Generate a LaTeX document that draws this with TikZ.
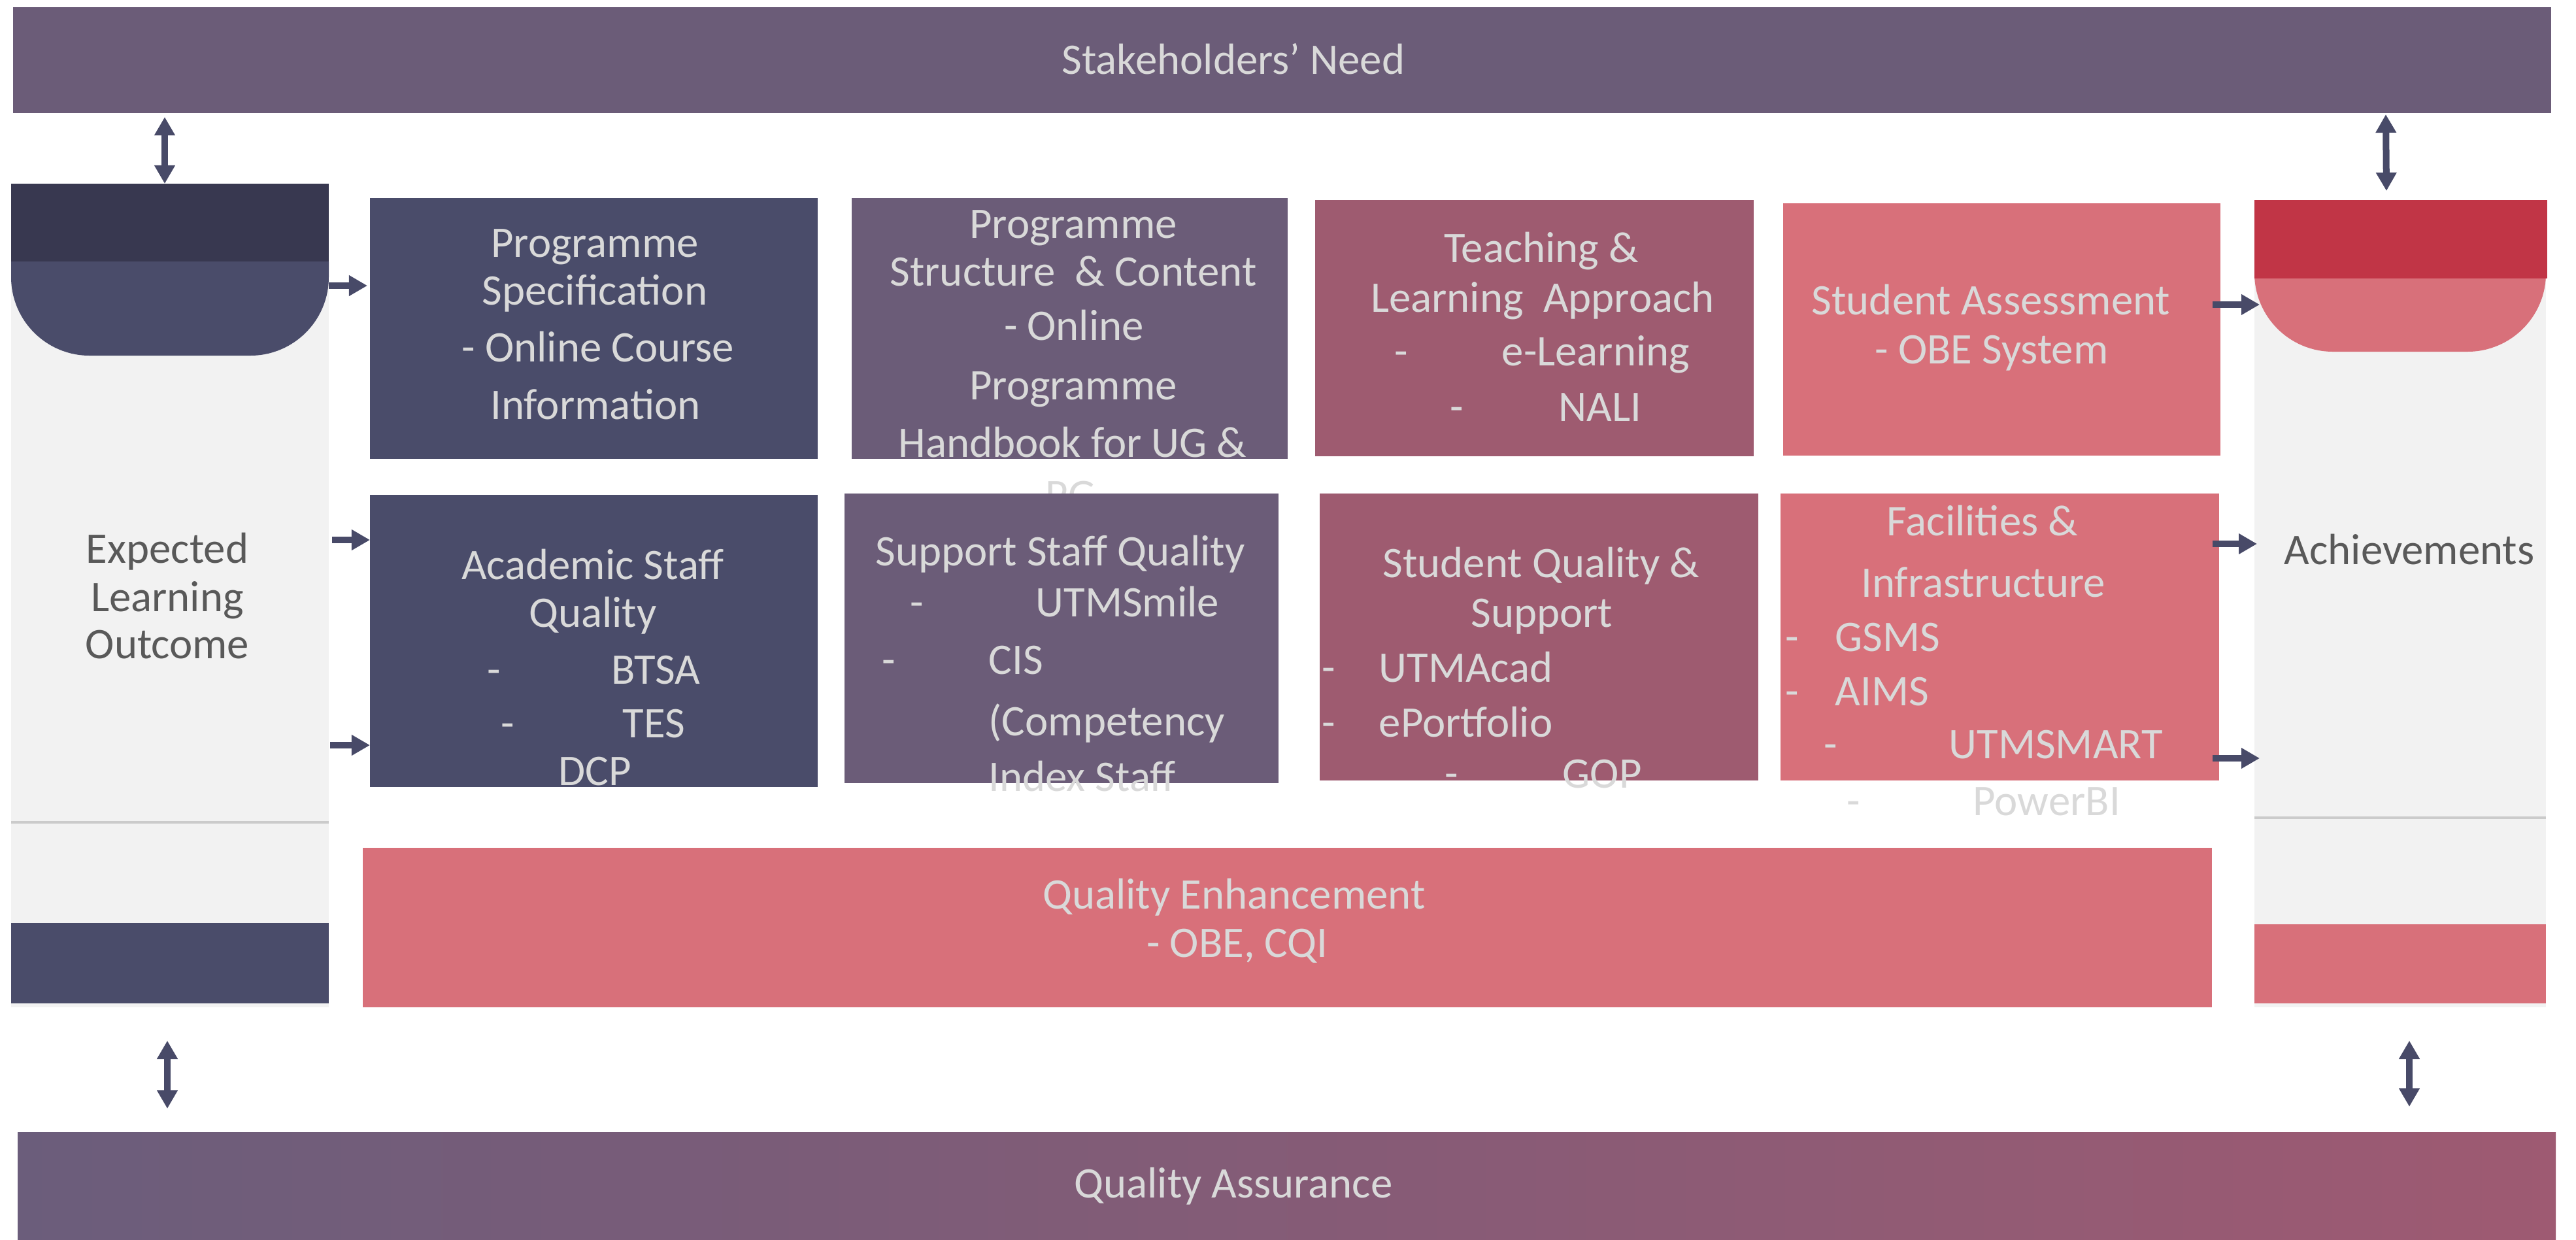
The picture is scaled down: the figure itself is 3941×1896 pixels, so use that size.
\documentclass[tikz,border=0pt]{standalone}
\usepackage{fontspec}
\setmainfont{Carlito}
\usetikzlibrary{arrows.meta,fit}
\definecolor{barpurple}{HTML}{6B5C78}
\definecolor{navy}{HTML}{4A4C6A}
\definecolor{darkcap}{HTML}{383850}
\definecolor{mauve}{HTML}{9E5B70}
\definecolor{pinkc}{HTML}{D8707A}
\definecolor{redcap}{HTML}{C13546}
\definecolor{panel}{HTML}{F2F2F2}
\definecolor{divider}{HTML}{CBCBCB}
\definecolor{arrowc}{HTML}{484A68}
\definecolor{lighttext}{HTML}{D9D9D9}
\definecolor{graytext}{HTML}{595959}
\definecolor{qaleft}{HTML}{6B5D7B}
\definecolor{qaright}{HTML}{9E5A72}
\tikzset{
  blk/.style={inner sep=0pt, outer sep=0pt, fill=#1},
  txt/.style={text=lighttext, font=\fontsize{19}{23}\selectfont, inner sep=0pt},
  gtxt/.style={text=graytext, font=\fontsize{19}{23}\selectfont, inner sep=0pt},
  arr/.style={line width=0.1cm, draw=arrowc, -{Triangle[width=0.3cm,length=0.28cm]}},
  darr/.style={line width=0.1cm, draw=arrowc, {Triangle[width=0.3cm,length=0.28cm]}-{Triangle[width=0.3cm,length=0.28cm]}}
}
\begin{document}
\begin{tikzpicture}[x=0.01cm,y=-0.01cm]
\useasboundingbox (0,0) rectangle (3941,1896);
\fill[white] (0,0) rectangle (3941,1896);

% top and bottom bars
\node[blk=barpurple, fit={(20,11) (3903,173)}] (topbar) {};
\node[inner sep=0pt, outer sep=0pt, left color=qaleft, right color=qaright, fit={(27,1732) (3910,1896)}] (botbar) {};
\node[txt, anchor=base] (tStake) at (1887,113) {Stakeholders’ Need};
\node[txt, anchor=base] (tQA) at (1887,1832) {Quality Assurance};

% left column
\node[blk=panel, fit={(17,281) (503,1541)}] (lpanel) {};
\node[blk=navy, rounded corners=1.2cm, fit={(17,281) (503,544)}] (lround) {};
\node[blk=darkcap, fit={(17,281) (503,400)}] (lcap) {};
\coordinate (ld1) at (17,1258);
\coordinate (ld2) at (503,1258);
\draw[divider, line width=0.04cm] (ld1) -- (ld2);
\node[blk=navy, fit={(17,1412) (503,1535)}] (lbot) {};
\node[gtxt, anchor=base] (tELO1) at (256,861) {Expected};
\node[gtxt, anchor=base] (tELO2) at (256,935) {Learning};
\node[gtxt, anchor=base] (tELO3) at (256,1007) {Outcome};

% right column
\node[blk=panel, fit={(3449,306) (3895,1541)}] (rpanel) {};
\node[blk=pinkc, rounded corners=1.2cm, fit={(3449,306) (3895,538)}] (rround) {};
\node[blk=redcap, fit={(3449,306) (3897,426)}] (rcap) {};
\coordinate (rd1) at (3449,1251);
\coordinate (rd2) at (3895,1251);
\draw[divider, line width=0.04cm] (rd1) -- (rd2);
\node[blk=pinkc, fit={(3449,1414) (3895,1535)}] (rbot) {};
\node[gtxt, anchor=base] (tAch) at (3686,863) {Achievements};

% row 1
\node[blk=navy, fit={(566,303) (1251,702)}] (b1) {};
\node[txt, anchor=base] (t1a) at (910,393) {Programme};
\node[txt, anchor=base] (t1b) at (910,466) {Specification};
\node[txt, anchor=base] (t1c) at (915,553) {- Online Course};
\node[txt, anchor=base] (t1d) at (911,641) {Information};

\node[blk=barpurple, fit={(1303,303) (1970,702)}] (b2) {};
\node[txt, anchor=base] (t2a) at (1642,364) {Programme};
\node[txt, anchor=base] (t2b) at (1642,437) {Structure\ \ \& Content};
\node[txt, anchor=base] (t2c) at (1643,520) {- Online};
\node[txt, anchor=base] (t2d) at (1642,611) {Programme};
\node[txt, anchor=base] (t2e) at (1641,699) {Handbook for UG \&};
\node[txt, anchor=base] (t2f) at (1638,779) {PG};

\node[blk=mauve, fit={(2012,306) (2683,698)}] (b3) {};
\node[txt, anchor=base] (t3a) at (2358,401) {Teaching \&};
\node[txt, anchor=base] (t3b) at (2360,477) {Learning\ \ Approach};
\node[txt, anchor=base west] (t3c) at (2133,559) {-};
\node[txt, anchor=base west] (t3d) at (2297,559) {e-Learning};
\node[txt, anchor=base west] (t3e) at (2218,644) {-};
\node[txt, anchor=base west] (t3f) at (2384,644) {NALI};

\node[blk=pinkc, fit={(2728,311) (3397,697)}] (b4) {};
\node[txt, anchor=base] (t4a) at (3046,481) {Student Assessment};
\node[txt, anchor=base] (t4b) at (3047,556) {- OBE System};

% row 2
\node[blk=navy, fit={(566,757) (1251,1204)}] (b5) {};
\node[txt, anchor=base] (t5a) at (907,886) {Academic Staff};
\node[txt, anchor=base] (t5b) at (907,959) {Quality};
\node[txt, anchor=base west] (t5c) at (745,1046) {-};
\node[txt, anchor=base west] (t5d) at (935,1046) {BTSA};
\node[txt, anchor=base west] (t5e) at (766,1128) {-};
\node[txt, anchor=base west] (t5f) at (952,1128) {TES};
\node[txt, anchor=base west] (t5g) at (854,1201) {DCP};

\node[blk=barpurple, fit={(1292,755) (1956,1198)}] (b6) {};
\node[txt, anchor=base] (t6a) at (1622,865) {Support Staff Quality};
\node[txt, anchor=base west] (t6b) at (1392,943) {-};
\node[txt, anchor=base west] (t6c) at (1584,943) {UTMSmile};
\node[txt, anchor=base west] (t6d) at (1349,1031) {-};
\node[txt, anchor=base west] (t6e) at (1512,1031) {CIS};
\node[txt, anchor=base west] (t6f) at (1512,1125) {(Competency};
\node[txt, anchor=base west] (t6g) at (1512,1210) {Index Staff};

\node[blk=mauve, fit={(2019,755) (2690,1194)}] (b7) {};
\node[txt, anchor=base] (t7a) at (2358,883) {Student Quality \&};
\node[txt, anchor=base] (t7b) at (2359,959) {Support};
\node[txt, anchor=base west] (t7c) at (2022,1043) {-};
\node[txt, anchor=base west] (t7d) at (2109,1043) {UTMAcad};
\node[txt, anchor=base west] (t7e) at (2022,1127) {-};
\node[txt, anchor=base west] (t7f) at (2109,1127) {ePortfolio};
\node[txt, anchor=base west] (t7g) at (2210,1205) {-};
\node[txt, anchor=base west] (t7h) at (2390,1205) {GOP};

\node[blk=pinkc, fit={(2724,755) (3395,1194)}] (b8) {};
\node[txt, anchor=base] (t8a) at (3033,819) {Facilities \&};
\node[txt, anchor=base] (t8b) at (3034,913) {Infrastructure};
\node[txt, anchor=base west] (t8c) at (2731,996) {-};
\node[txt, anchor=base west] (t8d) at (2807,996) {GSMS};
\node[txt, anchor=base west] (t8e) at (2731,1079) {-};
\node[txt, anchor=base west] (t8f) at (2807,1079) {AIMS};
\node[txt, anchor=base west] (t8g) at (2790,1160) {-};
\node[txt, anchor=base west] (t8h) at (2981,1160) {UTMSMART};
\node[txt, anchor=base west] (t8i) at (2825,1247) {-};
\node[txt, anchor=base west] (t8j) at (3018,1247) {PowerBI};

% quality enhancement
\node[blk=pinkc, fit={(555,1297) (3384,1541)}] (qe) {};
\node[txt, anchor=base] (tQE1) at (1888,1390) {Quality Enhancement};
\node[txt, anchor=base] (tQE2) at (1893,1464) {- OBE, CQI};

% arrow end points
\coordinate (h1s) at (503,437);  \coordinate (h1e) at (562,437);
\coordinate (h2s) at (508,826);  \coordinate (h2e) at (566,826);
\coordinate (h3s) at (505,1140); \coordinate (h3e) at (566,1140);
\coordinate (h4s) at (3385,466); \coordinate (h4e) at (3457,466);
\coordinate (h5s) at (3385,832); \coordinate (h5e) at (3453,832);
\coordinate (h6s) at (3385,1160);\coordinate (h6e) at (3457,1160);
\coordinate (v1s) at (252,179);  \coordinate (v1e) at (252,281);
\coordinate (v2s) at (3650,175); \coordinate (v2e) at (3651,292);
\coordinate (v3s) at (256,1592); \coordinate (v3e) at (256,1696);
\coordinate (v4s) at (3686,1592);\coordinate (v4e) at (3686,1693);

\draw[arr] (h1s) -- (h1e);
\draw[arr] (h2s) -- (h2e);
\draw[arr] (h3s) -- (h3e);
\draw[arr] (h4s) -- (h4e);
\draw[arr] (h5s) -- (h5e);
\draw[arr] (h6s) -- (h6e);
\draw[darr] (v1s) -- (v1e);
\draw[darr] (v2s) -- (v2e);
\draw[darr] (v3s) -- (v3e);
\draw[darr] (v4s) -- (v4e);
\end{tikzpicture}
\end{document}
